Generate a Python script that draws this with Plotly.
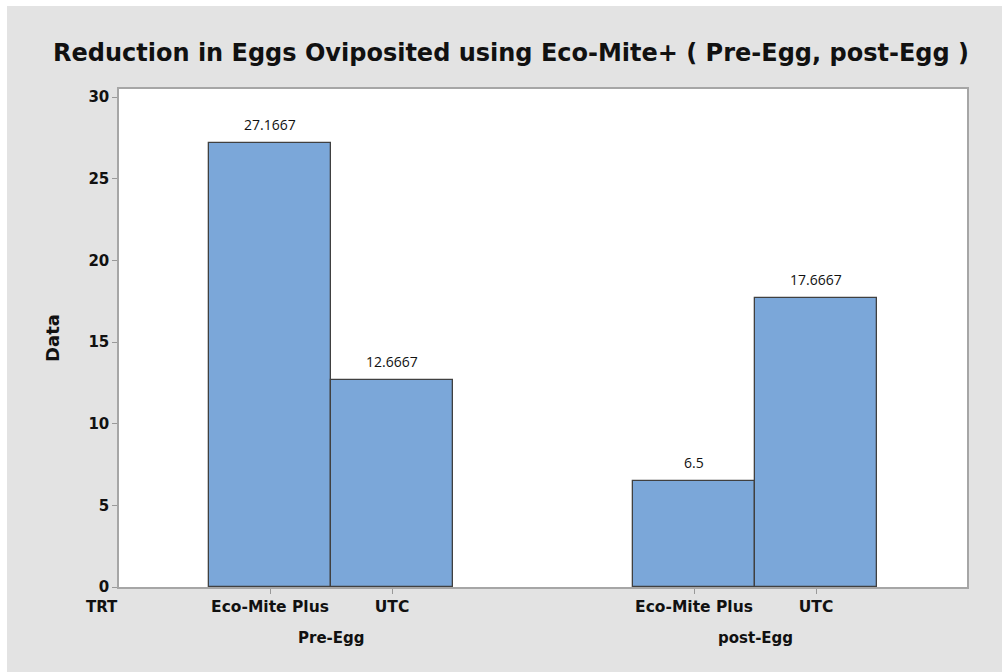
import plotly.graph_objects as go

groups = ["Pre-Egg", "post-Egg"]
treatments = ["Eco-Mite Plus", "UTC"]
values = [[27.1667, 12.6667], [6.5, 17.6667]]
yticks = [0, 5, 10, 15, 20, 25, 30]
title = "Reduction in Eggs Oviposited using Eco-Mite+ ( Pre-Egg, post-Egg )"
ytitle = "Data"
xlabel = "TRT"

FONT = "DejaVu Sans"
VFONT = "Open Sans"
GAP = 180 / 122 + 1  # distance between groups in bar widths

xs, ys, labels = [], [], []
for gi, g in enumerate(groups):
    for ti, t in enumerate(treatments):
        xs.append(gi * (len(treatments) - 1 + GAP) + ti)
        ys.append(values[gi][ti])
        labels.append(t)

fig = go.Figure()
fig.add_trace(go.Bar(
    x=xs, y=ys, width=1.0,
    marker=dict(color="#7ba7d9", line=dict(color="#404040", width=1.3)),
    hoverinfo="y",
))

for x, y in zip(xs, ys):
    fig.add_annotation(x=x, y=y, text=f"{y:.6g}", showarrow=False,
                       yanchor="bottom", yshift=7,
                       font=dict(family=VFONT, size=14, color="#111"))

# group labels
n = len(treatments)
for gi, g in enumerate(groups):
    gx = [xs[gi * n + i] for i in range(n)]
    fig.add_annotation(x=sum(gx) / n, y=0, yref="y", text=g,
                       showarrow=False, yanchor="middle", yshift=-51,
                       font=dict(family=FONT, size=15, color="#111", weight="bold"))

fig.add_annotation(xref="paper", x=(84 - 119) / 848, y=0, yref="y",
                   text=xlabel, showarrow=False, yanchor="middle",
                   yshift=-20, font=dict(family=FONT, size=15, color="#111", weight="bold"))

# white outer strips (top & left) like the reference border
fig.add_shape(type="rect", xref="paper", yref="paper",
              x0=(0 - 119) / 848, x1=(1002 - 119) / 848,
              y0=(587 - 0) / 498, y1=(587 - 6) / 498,
              fillcolor="white", line=dict(width=0), layer="below")
fig.add_shape(type="rect", xref="paper", yref="paper",
              x0=(0 - 119) / 848, x1=(7 - 119) / 848,
              y0=(587 - 672) / 498, y1=(587 - 0) / 498,
              fillcolor="white", line=dict(width=0), layer="below")

xmin = xs[0] - 0.5 - 90 / 122
xmax = xs[-1] + 0.5 + 90 / 122

fig.update_layout(
    width=1002, height=672,
    margin=dict(l=119, r=35, t=89, b=85),
    paper_bgcolor="#e3e3e3",
    plot_bgcolor="white",
    showlegend=False,
    title=dict(text=title, x=511 / 1002, xanchor="center",
               y=1 - 53 / 672, yanchor="middle",
               font=dict(family=FONT, size=24, color="#111", weight="bold")),
    bargap=0,
    xaxis=dict(range=[xmin, xmax], tickvals=xs, ticktext=labels,
               ticks="outside", ticklen=5, tickcolor="#999", showgrid=False,
               zeroline=False, showline=True, linecolor="#a6a6a6", linewidth=1.5,
               mirror=True, tickfont=dict(family=FONT, size=15.5, color="#111", weight="bold")),
    yaxis=dict(range=[0, 30.49], tickvals=yticks, ticks="outside", ticklen=5,
               tickcolor="#999", showgrid=False, zeroline=False, showline=True,
               linecolor="#a6a6a6", linewidth=1.5, mirror=True,
               tickfont=dict(family=FONT, size=15, color="#111", weight="bold"),
               title=dict(text=ytitle, standoff=24,
                          font=dict(family=FONT, size=18, color="#111", weight="bold"))),
)

fig.write_html("out.html")
